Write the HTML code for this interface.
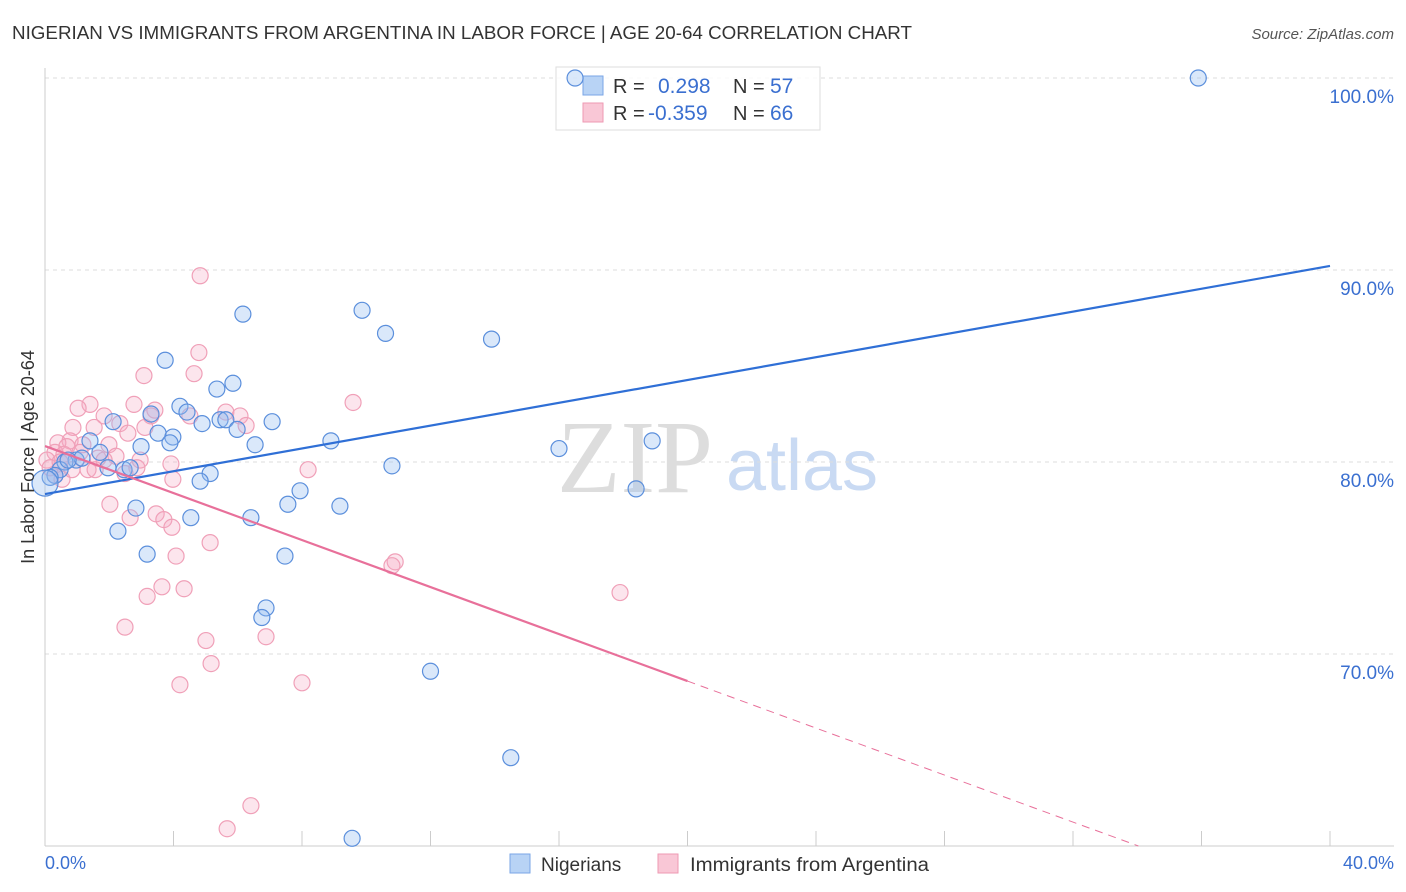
<!DOCTYPE html>
<html><head><meta charset="utf-8"><style>
body{margin:0;background:#fff;font-family:"Liberation Sans",sans-serif;}
svg{display:block}
</style></head><body>
<svg id="chart" width="1406" height="892">
<text x="12" y="39" font-size="18" fill="#333" textLength="900" lengthAdjust="spacingAndGlyphs">NIGERIAN VS IMMIGRANTS FROM ARGENTINA IN LABOR FORCE | AGE 20-64 CORRELATION CHART</text>
<text x="1394" y="39" font-size="15" fill="#555" font-style="italic" text-anchor="end">Source: ZipAtlas.com</text>
<text x="635" y="492" font-size="104" fill="#ddd" font-family="Liberation Serif,serif" text-anchor="middle">ZIP</text>
<text x="802" y="490" font-size="72" fill="#c9daf3" text-anchor="middle">atlas</text>
<g id="grid"></g>
<g>
<rect x="556" y="67" width="264" height="63" fill="rgba(255,255,255,0.85)" stroke="#ddd"/>
<rect x="583" y="76" width="20" height="19" fill="#b8d3f5" stroke="#7aa6e6"/>
<rect x="583" y="103" width="20" height="19" fill="#f9c7d6" stroke="#ee9ab3"/>
<text x="613" y="93" font-size="20" fill="#333">R =</text><text x="658" y="93" font-size="21" fill="#3a6fd0">0.298</text>
<text x="733" y="93" font-size="20" fill="#333">N =</text><text x="770" y="93" font-size="21" fill="#3a6fd0">57</text>
<text x="613" y="120" font-size="20" fill="#333">R =</text><text x="648" y="120" font-size="21" fill="#3a6fd0">-0.359</text>
<text x="733" y="120" font-size="20" fill="#333">N =</text><text x="770" y="120" font-size="21" fill="#3a6fd0">66</text>
</g>
<g id="marks"></g>
<text transform="translate(34,457) rotate(-90)" font-size="18" fill="#333" text-anchor="middle">In Labor Force | Age 20-64</text>
<text x="45" y="869" font-size="18" fill="#3a6fd0">0.0%</text>
<text x="1394" y="869" font-size="18" fill="#3a6fd0" text-anchor="end">40.0%</text>
<g>
<rect x="510" y="854" width="20" height="19" fill="#b8d3f5" stroke="#7aa6e6"/>
<text x="541" y="871" font-size="19" fill="#333">Nigerians</text>
<rect x="658" y="854" width="20" height="19" fill="#f9c7d6" stroke="#ee9ab3"/>
<text x="690" y="871" font-size="19" fill="#333" textLength="239" lengthAdjust="spacingAndGlyphs">Immigrants from Argentina</text>
</g>
</svg>
<script>
const yTicks=[70,80,90,100];
const blueX=[16.5,35.9,6.16,9.87,10.6,13.9,3.74,5.85,5.35,4.2,4.42,3.3,4.89,5.45,5.63,7.07,5.98,2.12,3.52,3.98,3.89,1.4,2.99,6.54,8.9,16.0,18.9,1.71,0.97,0.62,1.15,1.96,2.46,2.65,0.47,0.31,0.16,0.0,10.8,5.14,4.83,7.94,7.56,9.18,18.4,2.83,4.54,6.41,2.27,3.18,7.47,6.88,6.75,12.0,14.5,9.56,0.72];
const blueY=[100,100,87.7,87.9,86.7,86.4,85.3,84.1,83.8,82.9,82.6,82.5,82.0,82.2,82.2,82.1,81.7,82.1,81.5,81.3,81.0,81.1,80.8,80.9,81.1,80.7,81.1,80.5,80.1,80.0,80.2,79.7,79.6,79.7,79.6,79.3,79.2,78.9,79.8,79.4,79.0,78.5,77.8,77.7,78.6,77.6,77.1,77.1,76.4,75.2,75.1,72.4,71.9,69.1,64.6,60.4,80.1];
const pinkX=[4.83,4.79,4.64,3.08,9.59,1.4,1.03,2.77,3.42,3.3,1.84,2.33,1.53,0.87,5.63,6.07,6.26,4.51,3.11,2.58,1.99,0.78,0.4,0.68,1.18,0.31,0.59,0.06,0.16,0.31,1.34,1.65,2.21,2.49,2.86,3.92,3.98,8.19,2.02,2.65,3.46,3.7,3.95,5.14,4.08,10.9,10.8,3.64,4.33,3.18,17.9,2.49,5.01,6.88,5.17,4.2,8.0,6.41,5.67,0.47,1.09,1.56,1.84,0.53,2.96,0.84];
const pinkY=[89.7,85.7,84.6,84.5,83.1,83.0,82.8,83.0,82.7,82.4,82.4,82.0,81.8,81.8,82.6,82.4,81.9,82.4,81.8,81.5,80.9,81.1,81.0,80.8,80.9,80.5,80.4,80.1,79.7,79.3,79.6,80.2,80.3,79.4,79.7,79.9,79.1,79.6,77.8,77.1,77.3,77.0,76.6,75.8,75.1,74.8,74.6,73.5,73.4,73.0,73.2,71.4,70.7,70.9,69.5,68.4,68.5,62.1,60.9,80.0,80.5,79.6,80.1,79.1,80.1,79.6];
const blueFit=[78.33,0.297];
const pinkFit=[80.83,-0.612];
const NS='http://www.w3.org/2000/svg';
const X=v=>45+v/40*1285, Y=v=>78+(100-v)*19.2;
const grid=document.getElementById('grid'), marks=document.getElementById('marks');
function mk(tag,at,p){const e=document.createElementNS(NS,tag);for(const k in at)e.setAttribute(k,at[k]);p.appendChild(e);return e;}
yTicks.forEach(t=>{
 const l=mk('line',{x1:45,x2:1394,y1:Y(t),y2:Y(t),stroke:'#ddd','stroke-dasharray':'4,4'},grid);
 
 
 const tx=mk('text',{x:1394,y:Y(t)+25,'font-size':19,fill:'#3a6fd0','text-anchor':'end'},grid);
 tx.textContent=t.toFixed(1)+'%';
 
 
});
mk('line',{x1:45,x2:45,y1:68,y2:846,stroke:'#ccc'},grid);
mk('line',{x1:45,x2:1394,y1:846,y2:846,stroke:'#ccc'},grid);
for(let i=0;i<=10;i++){const t=mk('line',{x1:X(i*4),x2:X(i*4),y1:831,y2:846,stroke:'#ccc'},grid);
 
 }
function pts(xs,ys,fill,stroke,name){xs.forEach((x,i)=>{
 const r=(x===0)?13:8;
 const c=mk('circle',{cx:X(x),cy:Y(ys[i]),r:r,fill:fill,stroke:stroke,'stroke-width':1.2},marks);
 
 });}
pts(pinkX,pinkY,'rgba(246,170,195,0.3)','#f0a0b8','argentina-point');
pts(blueX,blueY,'rgba(150,190,240,0.35)','#5b8fdc','nigerian-point');
const bl=mk('line',{x1:X(0),y1:Y(blueFit[0]),x2:X(40),y2:Y(blueFit[0]+blueFit[1]*40),stroke:'#2f6fd6','stroke-width':2.2},marks);


const pl=mk('line',{x1:X(0),y1:Y(pinkFit[0]),x2:X(20),y2:Y(pinkFit[0]+pinkFit[1]*20),stroke:'#e8709a','stroke-width':2.2},marks);


const xe=(60-pinkFit[0])/pinkFit[1];
const pd=mk('line',{x1:X(20),y1:Y(pinkFit[0]+pinkFit[1]*20),x2:X(xe),y2:Y(60),stroke:'#e8709a','stroke-width':1,'stroke-dasharray':'8,6'},marks);


</script>
</body></html>
